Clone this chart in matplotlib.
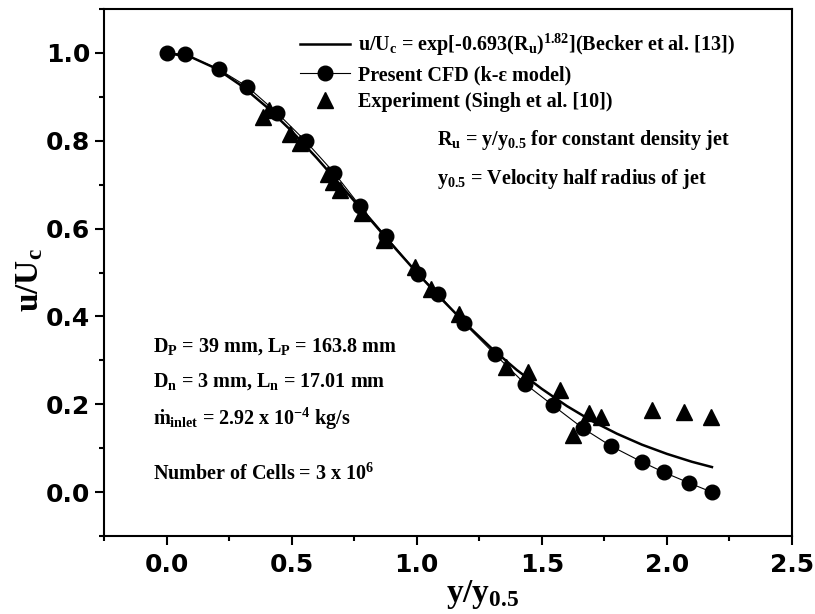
import numpy as np
import matplotlib.pyplot as plt
from matplotlib.ticker import MultipleLocator

# CFD (k-epsilon) points
cfd_x = [0.0, 0.072, 0.208, 0.323, 0.441, 0.556, 0.670, 0.774, 0.876, 1.005, 1.085,
         1.190, 1.312, 1.432, 1.543, 1.665, 1.776, 1.899, 1.988, 2.088, 2.179]
cfd_y = [1.0, 0.997, 0.963, 0.923, 0.864, 0.799, 0.727, 0.651, 0.583, 0.497, 0.452,
         0.384, 0.314, 0.247, 0.198, 0.145, 0.105, 0.069, 0.045, 0.021, 0.0]

# experiment (Singh et al.)
exp_x = [0.385, 0.410, 0.495, 0.532, 0.645, 0.665, 0.692, 0.782, 0.868, 0.992, 1.059,
         1.168, 1.356, 1.443, 1.572, 1.623, 1.689, 1.736, 1.939, 2.068, 2.175]
exp_y = [0.855, 0.870, 0.815, 0.795, 0.724, 0.705, 0.688, 0.635, 0.575, 0.512, 0.463,
         0.406, 0.285, 0.273, 0.233, 0.130, 0.179, 0.170, 0.188, 0.183, 0.171]

# Becker et al. curve
becker_x = [0.0, 0.1, 0.2, 0.3, 0.4, 0.5, 0.6, 0.7, 0.8, 0.9, 1.0, 1.1,
            1.2, 1.3, 1.4, 1.5, 1.6, 1.7, 1.8, 1.9, 2.0, 2.1, 2.18]
becker_y = [1.0, 0.990, 0.964, 0.925, 0.877, 0.822, 0.761, 0.696, 0.630, 0.564, 0.500, 0.439,
            0.381, 0.327, 0.278, 0.235, 0.196, 0.162, 0.133, 0.108, 0.087, 0.069, 0.057]

x_ticks = [0.0, 0.5, 1.0, 1.5, 2.0, 2.5]
y_ticks = [0.0, 0.2, 0.4, 0.6, 0.8, 1.0]

plt.rcParams['mathtext.fontset'] = 'custom'
plt.rcParams['mathtext.rm'] = 'Liberation Serif:bold'
plt.rcParams['mathtext.bf'] = 'Liberation Serif:bold'
plt.rcParams['mathtext.it'] = 'Liberation Serif:bold'

serif = ['Liberation Serif', 'DejaVu Serif']

fig = plt.figure(figsize=(8.15, 6.14), dpi=100)
ax = fig.add_axes([104/815, 1-536/614, 688/815, 527/614])

ax.plot(becker_x, becker_y, color='black', lw=1.8,
        label=r'u/U$_\mathrm{c}$ = exp[-0.693(R$_\mathrm{u}$)$^\mathrm{1.82}$](Becker et al. [13])')
ax.plot(cfd_x, cfd_y, color='black', lw=0.8, marker='o', ms=10.5,
        label='Present CFD (k-ε model)')
ax.plot(exp_x, exp_y, ls='none', color='black', marker='^', ms=11,
        label='Experiment (Singh et al. [10])')

ax.set_xlim(-0.25, 2.5)
ax.set_ylim(-0.1, 1.1)
ax.set_xticks(x_ticks)
ax.set_yticks(y_ticks)
ax.xaxis.set_minor_locator(MultipleLocator(0.25))
ax.yaxis.set_minor_locator(MultipleLocator(0.1))
ax.tick_params(which='major', direction='out', length=6.5, width=1.5)
ax.tick_params(which='minor', direction='out', length=3.6, width=1.5)
ax.tick_params(axis='x', which='major', pad=6)
for sp in ax.spines.values():
    sp.set_linewidth(1.5)
for lab in ax.get_xticklabels() + ax.get_yticklabels():
    lab.set_fontfamily('DejaVu Sans')
    lab.set_fontweight('bold')
    lab.set_fontsize(18)

ax.set_xlabel(r'y/y$_\mathrm{0.5}$', fontsize=24, fontweight='bold', family=serif)
ax.set_ylabel(r'u/U$_\mathrm{c}$', fontsize=24, fontweight='bold', family=serif)
ax.xaxis.set_label_coords(0.551, -0.080)
ax.yaxis.set_label_coords(-0.086, 0.486)

ax.legend(loc='upper left', bbox_to_anchor=(0.285, 0.956), frameon=False,
          prop={'family': serif, 'weight': 'bold', 'size': 14.5},
          borderpad=0, borderaxespad=0, handlelength=2.5, handletextpad=0.4,
          labelspacing=0.35)

txt = dict(transform=ax.transAxes, fontsize=14.5, fontweight='bold', family=serif, va='baseline')
ax.text(0.484, 0.742, r'R$_\mathrm{u}$ = y/y$_\mathrm{0.5}$ for constant density jet', **txt)
ax.text(0.484, 0.668, r'y$_\mathrm{0.5}$ = Velocity half radius of jet', **txt)
ax.text(0.071, 0.349, r'D$_\mathrm{P}$ = 39 mm, L$_\mathrm{P}$ = 163.8 mm', **txt)
ax.text(0.071, 0.283, r'D$_\mathrm{n}$ = 3 mm, L$_\mathrm{n}$ = 17.01 mm', **txt)
ax.text(0.071, 0.211, r'ṁ$_\mathrm{inlet}$ = 2.92 x 10$^\mathrm{-4}$ kg/s', **txt)
ax.text(0.071, 0.106, r'Number of Cells = 3 x 10$^\mathrm{6}$', **txt)

fig.savefig('out.png', dpi=100)
